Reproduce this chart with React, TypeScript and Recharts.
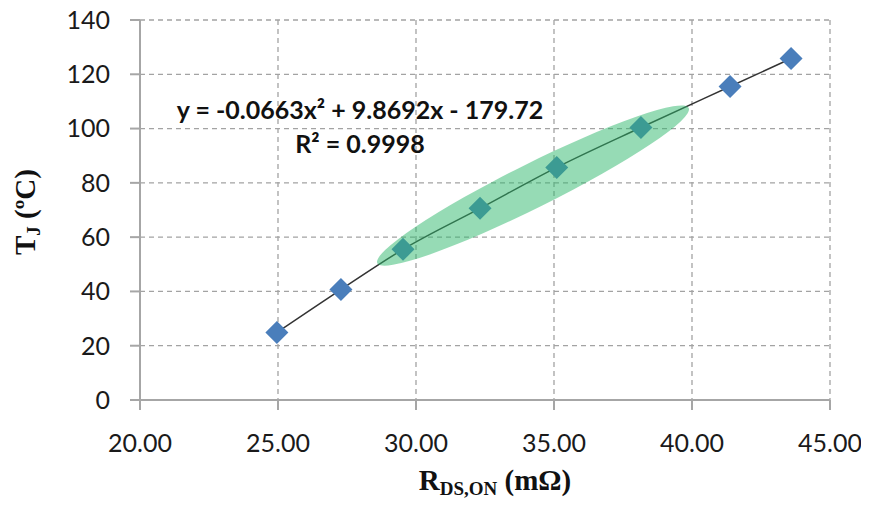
import { ComposedChart, Scatter, Line, XAxis, YAxis, CartesianGrid, ReferenceDot } from 'recharts'

// R_DS,ON (mΩ) vs junction temperature (°C)
const rdsOn = [24.96, 27.28, 29.53, 32.32, 35.1, 38.15, 41.38, 43.59]
const tj = [24.9, 40.7, 55.5, 70.6, 85.7, 100.4, 115.5, 125.8]

const xTicks = [20, 25, 30, 35, 40, 45]
const yTicks = [0, 20, 40, 60, 80, 100, 120, 140]

const equation = 'y = -0.0663x² + 9.8692x - 179.72'
const rSquared = 'R² = 0.9998'

// highlighted region (centre in data units)
const zoneCenter = { x: 34.24, y: 79.0 }

const data = rdsOn.map((x, i) => ({ x, y: tj[i] }))

const tickFont = { fontFamily: 'Lato, sans-serif', fontSize: 25, fill: '#1a1a1a' }
const titleFont = 'Liberation Serif, Times New Roman, serif'

function Diamond(props: any) {
  const { cx, cy } = props
  const r = 11.5
  return (
    <polygon
      points={`${cx},${cy - r} ${cx + r},${cy} ${cx},${cy + r} ${cx - r},${cy}`}
      fill='#4a7ebb'
    />
  )
}

function Zone(props: any) {
  const { cx, cy } = props
  return (
    <ellipse
      cx={cx}
      cy={cy}
      rx={174}
      ry={22}
      transform={`rotate(-26.5 ${cx} ${cy})`}
      fill='#2eb86b'
      fillOpacity={0.5}
    />
  )
}

function EquationLabel(props: any) {
  const { cx, cy } = props
  return (
    <g fontFamily='Lato, sans-serif' fontWeight={700} fontSize={25} fill='#111'>
      <text x={cx} y={cy} textAnchor='middle'>{equation}</text>
      <text x={cx} y={cy + 34} textAnchor='middle'>{rSquared}</text>
    </g>
  )
}

export default function App() {
  return (
    <div style={{ margin: -8 }}>
      <ComposedChart
        width={869}
        height={510}
        data={data}
        margin={{ top: 20, right: 39, left: 0, bottom: 0 }}
      >
        <CartesianGrid stroke='#a3a3a3' strokeDasharray='5 4' strokeWidth={1.3} />
        <XAxis
          type='number'
          dataKey='x'
          domain={[20, 45]}
          ticks={xTicks}
          tickFormatter={(v: number) => v.toFixed(2)}
          tick={tickFont}
          tickSize={10}
          tickMargin={24}
          height={110}
          stroke='#a6a6a6'
          strokeWidth={2}
          interval={0}
        />
        <YAxis
          type='number'
          domain={[0, 140]}
          ticks={yTicks}
          tick={tickFont}
          tickSize={10}
          tickMargin={20}
          width={140}
          stroke='#a6a6a6'
          strokeWidth={2}
          interval={0}
        />
        <Scatter dataKey='y' shape={Diamond} isAnimationActive={false} />
        <Line
          type='monotone'
          dataKey='y'
          stroke='#333'
          strokeWidth={1.5}
          dot={false}
          activeDot={false}
          isAnimationActive={false}
        />
        <ReferenceDot x={zoneCenter.x} y={zoneCenter.y} shape={Zone} ifOverflow='visible' />
        <ReferenceDot x={27.97} y={103.7} shape={EquationLabel} ifOverflow='visible' />
        <text
          x={495}
          y={490}
          textAnchor='middle'
          fontFamily={titleFont}
          fontWeight={700}
          fontSize={29}
          fill='#111'
        >
          R<tspan fontSize={19} dy={5}>DS,ON</tspan>
          <tspan dy={-5}> (mΩ)</tspan>
        </text>
        <text
          transform='translate(35 212) rotate(-90)'
          textAnchor='middle'
          fontFamily={titleFont}
          fontWeight={700}
          fontSize={29}
          fill='#111'
        >
          T<tspan fontSize={19} dy={5}>J</tspan>
          <tspan dy={-5}> (ºC)</tspan>
        </text>
      </ComposedChart>
    </div>
  )
}
